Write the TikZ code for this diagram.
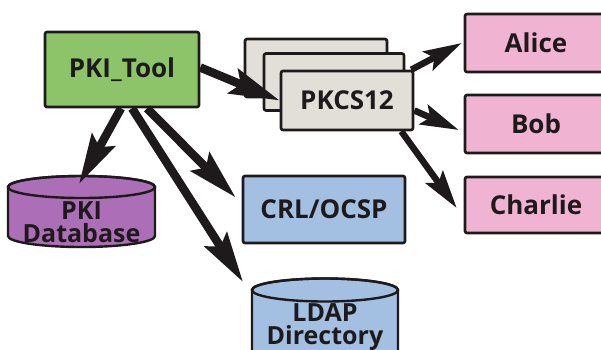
\documentclass[tikz,border=0pt]{standalone}
\usepackage{fontspec}
\setmainfont{Open Sans}
\usetikzlibrary{arrows.meta}
\definecolor{toolgreen}{RGB}{141,196,106}
\definecolor{cardgray}{RGB}{226,223,216}
\definecolor{pinkbox}{RGB}{240,180,210}
\definecolor{lblue}{RGB}{163,191,226}
\definecolor{purp}{RGB}{172,110,182}
\definecolor{ink}{RGB}{30,26,28}
\begin{document}
\begin{tikzpicture}[x=1pt,y=1pt,
  box/.style={draw=ink,line width=2.6pt,rounded corners=2pt,inner sep=0pt,
    font=\fontsize{26}{22}\selectfont\bfseries,text=ink},
  cyl/.style={draw=ink,line width=2.4pt},
  lbl/.style={font=\fontsize{25}{23}\selectfont\bfseries,text=ink,align=center,inner sep=0pt},
  bigarrow/.style={draw=ink,line width=8.5pt,-{Stealth[length=50pt,width=26pt,inset=8pt]}},
  smallarrow/.style={draw=ink,line width=6.5pt,-{Stealth[length=38pt,width=21pt,inset=7pt]}},
]
\useasboundingbox (0,0) rectangle (601,-349);

% PKCS12 card stack
\node[box,fill=cardgray,minimum width=142pt,minimum height=58pt] (back) at (316,-68) {};
\node[box,fill=cardgray,minimum width=140pt,minimum height=57pt] (middle) at (334,-82) {};
\node[box,fill=cardgray,minimum width=132pt,minimum height=59pt] (front) at (347,-100.5) {PKCS12};

% PKI_Tool
\node[box,fill=toolgreen,minimum width=154pt,minimum height=75pt] (tool) at (122,-69.5) {PKI\_Tool};

% recipients
\node[box,fill=pinkbox,minimum width=142pt,minimum height=58pt] (alice) at (536,-43) {Alice};
\node[box,fill=pinkbox,minimum width=142pt,minimum height=58pt] (bob) at (536,-124) {Bob};
\node[box,fill=pinkbox,minimum width=142pt,minimum height=56pt] (charlie) at (536,-205) {Charlie};

% CRL/OCSP
\node[box,fill=lblue,minimum width=162pt,minimum height=67pt] (crl) at (324,-209.5) {CRL/OCSP};

% PKI Database cylinder
\path[cyl,fill=purp] (8,-187) -- (8,-236) arc[start angle=180,end angle=360,x radius=73.5pt,y radius=11pt]
  -- (155,-187) arc[start angle=0,end angle=180,x radius=73.5pt,y radius=11pt] -- cycle;
\draw[cyl] (81.5,-187) ellipse[x radius=73.5pt,y radius=11pt];
\node[lbl] (db) at (81.5,-222) {PKI\\Database};

% LDAP Directory cylinder
\path[cyl,fill=lblue] (252,-290) -- (252,-365) -- (398,-365) -- (398,-290)
  arc[start angle=0,end angle=180,x radius=73pt,y radius=11.5pt] -- cycle;
\draw[cyl] (325,-290) ellipse[x radius=73pt,y radius=11.5pt];
\node[lbl] (ldap) at (325,-327) {LDAP\\Directory};

% arrow tips
\coordinate (dbtip) at (79,-184);
\coordinate (ldaptip) at (243,-282);

% connectors
\draw[bigarrow] ([yshift=2pt]tool.east) -- (front.west);
\draw[bigarrow] ([xshift=-1pt]tool.south) -- (dbtip);
\draw[bigarrow] ([xshift=10pt]tool.south) -- (ldaptip);
\draw[bigarrow] ([xshift=25pt]tool.south) -- ([shift={(-6pt,12pt)}]crl.west);
\draw[smallarrow] ([xshift=-3pt]front.north east) -- ([shift={(-2pt,0pt)}]alice.west);
\draw[smallarrow] ([yshift=-10pt]front.east) -- ([shift={(-5pt,-6pt)}]bob.west);
\draw[smallarrow] ([xshift=-13pt]front.south east) -- ([shift={(-7pt,-3pt)}]charlie.west);
\end{tikzpicture}
\end{document}
